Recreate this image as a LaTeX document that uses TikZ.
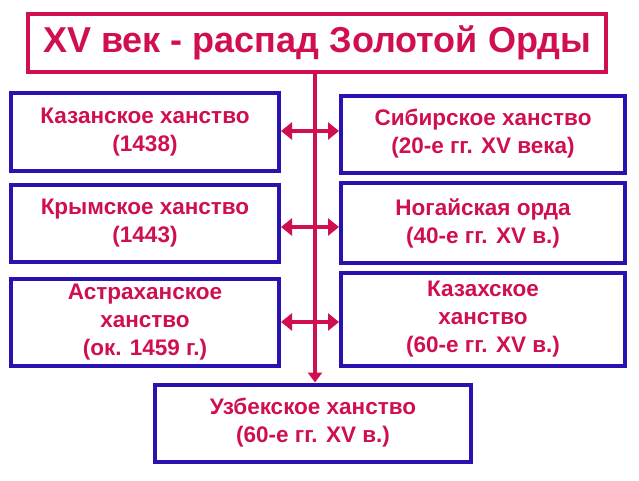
\documentclass[tikz,border=0pt]{standalone}
\usepackage{fontspec}
\setmainfont{Liberation Sans}
\usetikzlibrary{arrows.meta}
\definecolor{crim}{HTML}{D0104E}
\definecolor{bl}{HTML}{2A12B0}
\begin{document}
\begin{tikzpicture}[x=1pt,y=-1pt,
 bx/.style={draw=bl,line width=4pt,fill=white,font=\bfseries\fontsize{22.5}{28}\selectfont,text=crim,align=center},
 ln/.style={crim,line width=4pt},
 arr/.style={crim,line width=4pt,{Triangle[length=11pt,width=17pt]}-{Triangle[length=11pt,width=17pt]}}]
\fill[white] (0,0) rectangle (639,480);
\node[draw=crim,line width=4.5pt,fill=white,minimum width=578pt,minimum height=58pt,text=crim,font=\bfseries\fontsize{36}{40}\selectfont] (t) at (317,43) {XV век - распад Золотой Орды};
\node[bx,minimum width=268pt,minimum height=78pt] (l1) at (145,132) {Казанское ханство\\(1438)};
\node[bx,minimum width=268pt,minimum height=77pt] (l2) at (145,223) {Крымское ханство\\(1443)};
\node[bx,minimum width=268pt,minimum height=87pt] (l3) at (145,322) {Астраханское\\ханство\\(ок. 1459 г.)};
\node[bx,minimum width=284pt,minimum height=77pt] (r1) at (483,134) {Сибирское ханство\\(20-е гг. XV века)};
\node[bx,minimum width=284pt,minimum height=80pt] (r2) at (483,223) {Ногайская орда\\(40-е гг. XV в.)};
\node[bx,minimum width=284pt,minimum height=93pt] (r3) at (483,319) {Казахское\\ханство\\(60-е гг. XV в.)};
\node[bx,minimum width=316pt,minimum height=77pt] (b) at (313,423) {Узбекское ханство\\(60-е гг. XV в.)};
\coordinate (c1) at (315,131);
\draw[ln,-{Triangle[length=10pt,width=14pt]}] (t.south -| c1) -- (b.north -| c1);
\draw[arr] (l1.east |- c1) -- (r1.west |- c1);
\draw[arr] ([yshift=-4pt]l2.east) -- ([yshift=-4pt]l2.east -| r2.west);
\draw[arr] (l3.east) -- (l3.east -| r3.west);
\end{tikzpicture}
\end{document}
